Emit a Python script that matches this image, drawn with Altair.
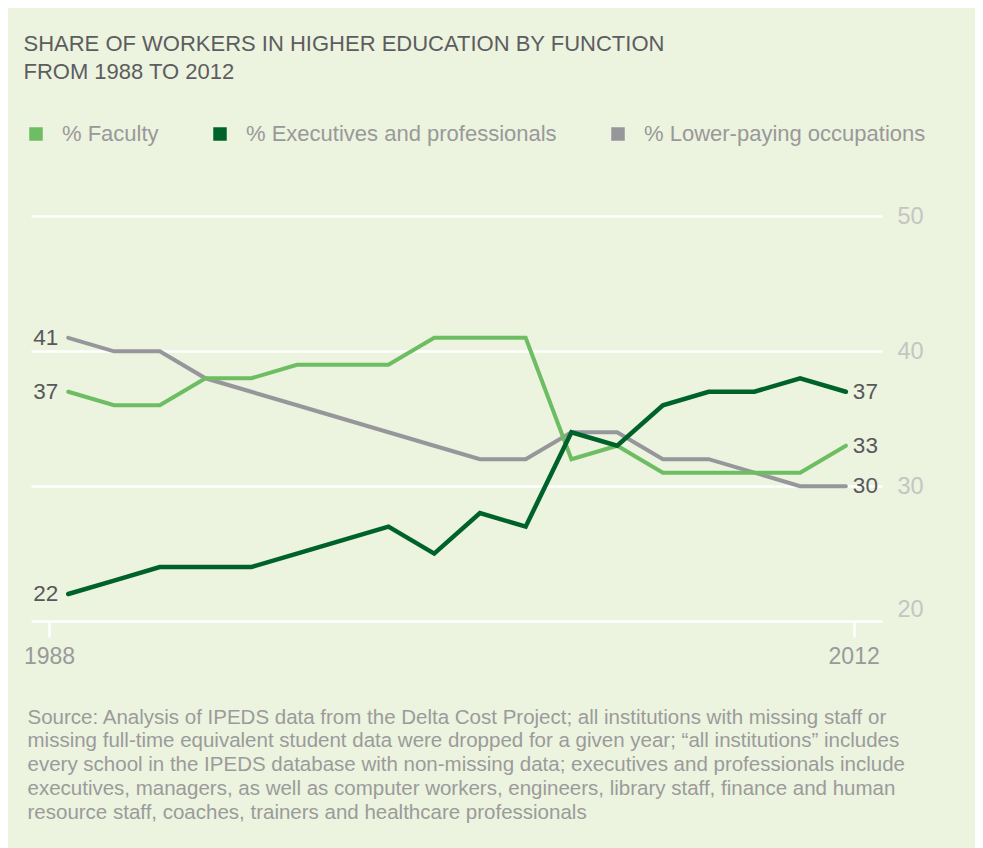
import altair as alt
import pandas as pd

# ---- data ----
series_names = ["% Faculty", "% Executives and professionals", "% Lower-paying occupations"]
faculty = [37, 36, 36, 38, 38, 39, 39, 39, 41, 41, 41, 32, 33, 31, 31, 31, 31, 33]
executives = [22, 23, 24, 24, 24, 25, 26, 27, 25, 28, 27, 34, 33, 36, 37, 37, 38, 37]
lower_paying = [41, 40, 40, 38, 37, 36, 35, 34, 33, 32, 32, 34, 34, 32, 32, 31, 30, 30]
x_tick_labels = ["1988", "2012"]
y_ticks = [20, 30, 40, 50]
series_colors = ["#6DBE63", "#00622B", "#97979B"]

title_lines = ["SHARE OF WORKERS IN HIGHER EDUCATION BY FUNCTION", "FROM 1988 TO 2012"]
source_lines = [
    "Source: Analysis of IPEDS data from the Delta Cost Project; all institutions with missing staff or",
    "missing full-time equivalent student data were dropped for a given year; \u201call institutions\u201d includes",
    "every school in the IPEDS database with non-missing data; executives and professionals include",
    "executives, managers, as well as computer workers, engineers, library staff, finance and human",
    "resource staff, coaches, trainers and healthcare professionals",
]

rows = []
for name, vals in zip(series_names, [faculty, executives, lower_paying]):
    for i, v in enumerate(vals):
        rows.append({"idx": i, "series": name, "value": v})
df = pd.DataFrame(rows)
last_idx = len(faculty) - 1

BG = "#ECF3DF"
FONT = "Liberation Sans"

x_scale = alt.Scale(domain=[-0.815, 17.79], nice=False, zero=False)
y_scale = alt.Scale(domain=[20, 51], nice=False, zero=False)
color_scale = alt.Scale(domain=series_names, range=series_colors)

x_axis = alt.Axis(
    values=[-0.42, 17.17],
    labelExpr=f"datum.value < 8 ? '{x_tick_labels[0]}' : '{x_tick_labels[1]}'",
    domain=False, grid=False,
    ticks=True, tickColor="white", tickSize=16, tickWidth=2.5,
    labelColor="#9A9A9A", labelFontSize=23, labelPadding=8, labelFlush=False,
    title=source_lines, titleX=-4, titleY=102, titleAlign="left", titleAnchor="start",
    titleBaseline="alphabetic", titleFontSize=20.5, titleFontWeight="normal",
    titleColor="#9B9B9B", titleLineHeight=23.8,
)
y_axis = alt.Axis(
    orient="right", values=y_ticks, domain=False, ticks=False,
    grid=True, gridColor="white", gridWidth=2.5,
    labelColor="#C4C6C2", labelFontSize=23.5, labelPadding=15, labelFlush=True,
    title=None,
)

base = alt.Chart(df)

x_enc = alt.X("idx:Q", scale=x_scale, axis=x_axis)
y_enc = alt.Y("value:Q", scale=y_scale, axis=y_axis)


def line_layer(name, width):
    return base.transform_filter(alt.datum.series == name).mark_line(
        strokeWidth=width, strokeCap="round"
    ).encode(
        x=x_enc, y=y_enc,
        color=alt.Color("series:N", scale=color_scale, legend=None),
    )


legend_layer = base.transform_filter(alt.datum.value < 0).mark_square(filled=True, opacity=1).encode(
    x=x_enc, y=y_enc,
    color=alt.Color(
        "series:N", scale=color_scale,
        legend=alt.Legend(
            title=None, orient="none", legendX=-6, legendY=-80, direction="horizontal",
            symbolType="square", symbolSize=182, symbolStrokeWidth=0, symbolOpacity=1,
            labelFontSize=22, labelColor="#999999", labelOffset=15,
            columnPadding=50, labelLimit=500,
        ),
    ),
)

left_labels = base.transform_filter(alt.datum.idx == 0).mark_text(
    align="right", baseline="middle", dx=-10, fontSize=22.5, color="#58585A"
).encode(x=x_enc, y=y_enc, text=alt.Text("value:Q"))

right_labels = base.transform_filter(alt.datum.idx == last_idx).mark_text(
    align="left", baseline="middle", dx=7, fontSize=22.5, color="#58585A"
).encode(x=x_enc, y=y_enc, text=alt.Text("value:Q"))

chart = alt.layer(
    legend_layer,
    line_layer(series_names[2], 4),
    line_layer(series_names[0], 4),
    line_layer(series_names[1], 4.5),
    left_labels,
    right_labels,
).properties(
    width=851, height=418,
    background=BG,
    padding={"left": 23, "top": 195, "right": 93, "bottom": 227},
    autosize=alt.AutoSizeParams(type="none"),
    title=alt.TitleParams(
        text=title_lines, anchor="start", fontSize=22, fontWeight="normal",
        color="#5D5D5F", lineHeight=28.5, offset=39, font=FONT,
    ),
).configure(font=FONT).configure_view(strokeWidth=0, fill=BG)

chart.save("out.html", embed_options={"renderer": "svg", "actions": False})
